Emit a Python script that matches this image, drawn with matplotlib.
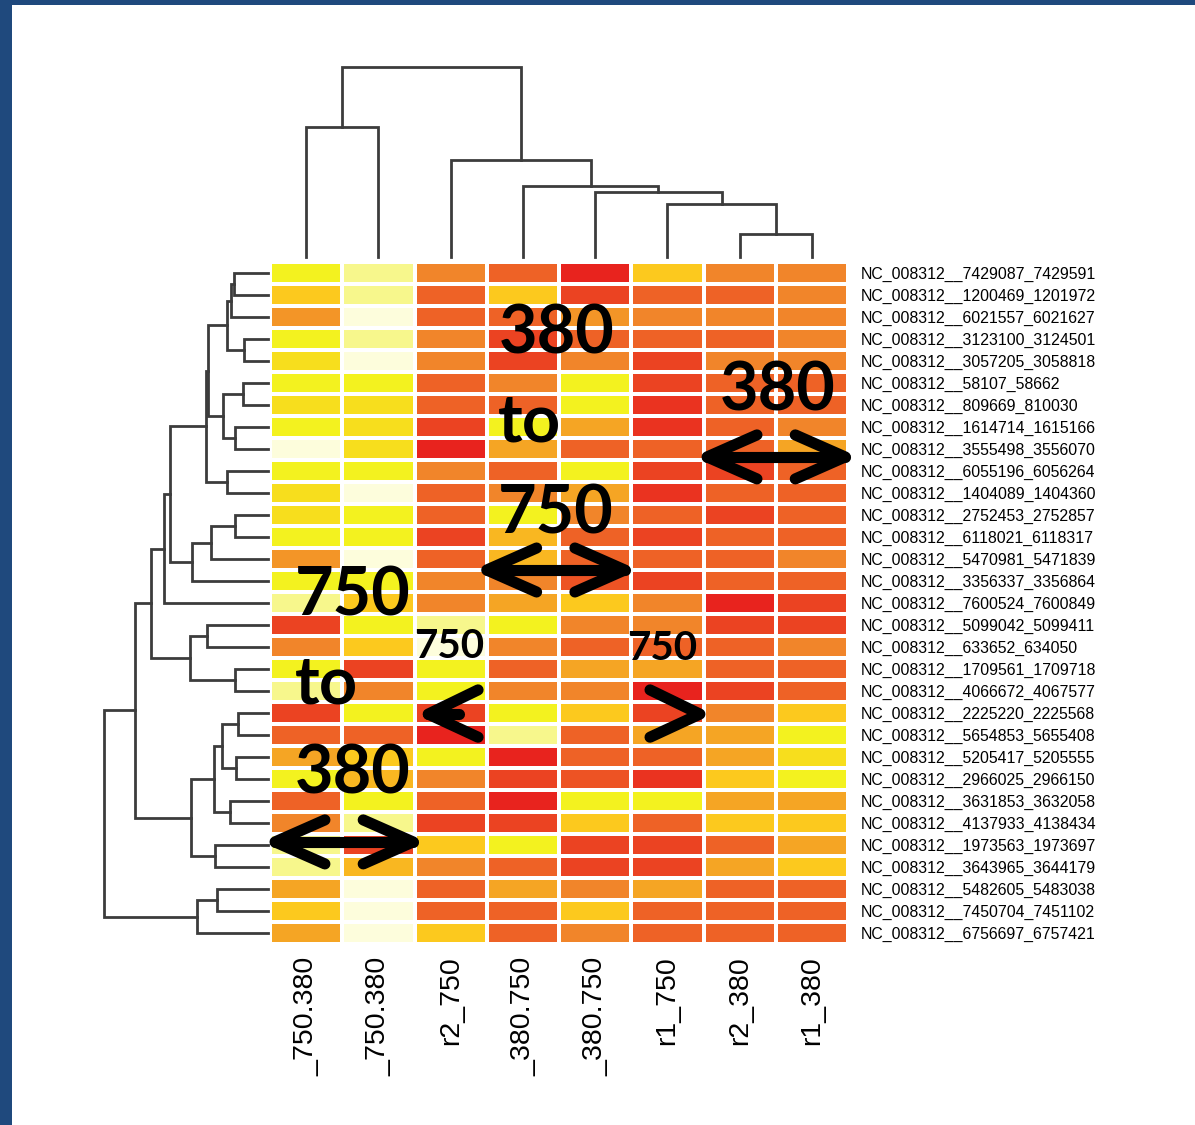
import numpy as np
import matplotlib
matplotlib.use("Agg")
import matplotlib.pyplot as plt
from matplotlib.colors import LinearSegmentedColormap
from matplotlib.patches import Rectangle

# ---- data -------------------------------------------------------------
col_labels = ["_750.380", "_750.380", "r2_750", "_380.750", "_380.750",
              "r1_750", "r2_380", "r1_380"]

row_labels = [
    "NC_008312__7429087_7429591", "NC_008312__1200469_1201972",
    "NC_008312__6021557_6021627", "NC_008312__3123100_3124501",
    "NC_008312__3057205_3058818", "NC_008312__58107_58662",
    "NC_008312__809669_810030", "NC_008312__1614714_1615166",
    "NC_008312__3555498_3556070", "NC_008312__6055196_6056264",
    "NC_008312__1404089_1404360", "NC_008312__2752453_2752857",
    "NC_008312__6118021_6118317", "NC_008312__5470981_5471839",
    "NC_008312__3356337_3356864", "NC_008312__7600524_7600849",
    "NC_008312__5099042_5099411", "NC_008312__633652_634050",
    "NC_008312__1709561_1709718", "NC_008312__4066672_4067577",
    "NC_008312__2225220_2225568", "NC_008312__5654853_5655408",
    "NC_008312__5205417_5205555", "NC_008312__2966025_2966150",
    "NC_008312__3631853_3632058", "NC_008312__4137933_4138434",
    "NC_008312__1973563_1973697", "NC_008312__3643965_3644179",
    "NC_008312__5482605_5483038", "NC_008312__7450704_7451102",
    "NC_008312__6756697_6757421",
]

# colour level (0 = red ... 8 = near white)
levels = np.array([
    [6, 7, 3, 2, 0, 5, 3, 3],
    [5, 7, 2, 5, 1, 2, 2, 3],
    [3.5, 8, 2, 2, 3.5, 3, 3, 3],
    [6, 7, 3, 1, 2, 2, 2, 3],
    [5.5, 8, 3, 1, 3, 1, 3, 3],
    [6, 6, 2, 3, 6, 1, 2, 2],
    [5.5, 5.5, 2, 2, 6, 0.5, 2, 2],
    [6, 5.5, 1, 6, 4, 0.5, 2, 3],
    [8, 5.5, 0, 4, 2, 2, 2, 4],
    [6, 6, 3, 2, 6, 1, 1, 2],
    [5.5, 8, 2, 3, 4, 0.5, 2, 2],
    [5.5, 6, 2, 6, 3, 2, 1, 2],
    [6, 6, 1, 4.5, 2, 1, 2, 2],
    [3.5, 8, 2, 4.5, 2, 2, 2, 3],
    [6, 6, 3, 3, 1.5, 1, 2, 2],
    [7, 5, 3, 4, 5, 3, 0, 1],
    [1, 6, 7, 6, 3, 3, 1, 1],
    [3, 5, 8, 3, 2, 2, 2, 3],
    [6, 1, 6, 2, 4, 4, 2, 2],
    [7, 3, 6, 3, 3, 0, 1, 2],
    [1, 6, 1, 6, 5, 1, 3, 5],
    [2, 2, 0, 7, 2, 4, 4, 6],
    [4, 5, 6, 0, 2, 2, 4, 5.5],
    [6, 4.5, 3, 1, 1.5, 0.5, 5, 6],
    [2, 6, 2, 0, 6, 6, 4, 4],
    [3, 7, 1, 1, 5, 2, 5, 5],
    [7, 1, 5, 6, 1, 1, 2, 4],
    [7, 4.5, 3, 2, 1, 1, 4, 5],
    [4, 8, 2, 4, 3, 4, 2, 2],
    [5, 8, 2, 2, 5, 2, 2, 2],
    [4, 8, 5, 2, 3, 2, 2, 2],
])

# linkage: (node a, node b, height); new nodes numbered from n upward
col_merges = [(0, 1, 130), (6, 7, 23), (5, 9, 53), (4, 10, 65),
              (3, 11, 71), (2, 12, 97), (8, 13, 190)]

row_merges = [
    (0, 1, 34), (31, 2, 37), (3, 4, 24), (32, 33, 41),
    (5, 6, 25), (7, 8, 33), (35, 36, 45), (34, 37, 60),
    (9, 10, 41), (38, 39, 62), (11, 12, 33), (41, 13, 57),
    (42, 14, 76), (40, 43, 98), (44, 15, 104), (16, 17, 61),
    (18, 19, 33), (46, 47, 78), (45, 48, 117), (20, 21, 30),
    (22, 23, 32), (50, 51, 46), (24, 25, 38), (52, 53, 54),
    (26, 27, 53), (54, 55, 77), (49, 56, 133), (28, 29, 51),
    (58, 30, 71), (57, 59, 164),
]

heat_colors = ["#E8231E", "#EB4322", "#EE6226", "#F1852A", "#F5A424",
               "#FCC81E", "#F3F21C", "#F7F78A", "#FDFDDC"]


def dendro_segments(merges, n):
    pos = {i: i + 0.5 for i in range(n)}
    ht = {i: 0.0 for i in range(n)}
    segs = []
    for k, (a, b, h) in enumerate(merges):
        segs.append(([pos[a], pos[a], pos[b], pos[b]], [ht[a], h, h, ht[b]]))
        pos[n + k] = 0.5 * (pos[a] + pos[b])
        ht[n + k] = h
    return segs


W, H = 1195, 1125
fig = plt.figure(figsize=(W / 100, H / 100), dpi=100)
fig.patch.set_facecolor("white")

def px_box(x0, y0, x1, y1):
    return [x0 / W, 1 - y1 / H, (x1 - x0) / W, (y1 - y0) / H]

# ---- heatmap ----------------------------------------------------------
nr, nc = levels.shape
ax = fig.add_axes(px_box(270, 262, 848, 944))
cmap = LinearSegmentedColormap.from_list("heat", heat_colors)
ax.pcolormesh(np.arange(nc + 1), np.arange(nr + 1), levels, cmap=cmap,
              vmin=0, vmax=8, edgecolors="white", linewidth=1.6)
ax.set_xlim(0, nc)
ax.set_ylim(nr, 0)
for s in ax.spines.values():
    s.set_visible(False)
ax.yaxis.tick_right()
ax.set_yticks(np.arange(nr) + 0.5)
ax.set_yticklabels(row_labels, fontsize=11.4, family="Liberation Sans")
ax.set_xticks(np.arange(nc) + 0.5)
ax.set_xticklabels(col_labels, rotation=90, fontsize=20.5,
                   family="Liberation Sans")
ax.tick_params(axis="y", length=0, pad=9)
ax.tick_params(axis="x", length=0, pad=9)

# ---- dendrograms ------------------------------------------------------
dcol = "#3c3c3c"
axt = fig.add_axes(px_box(270, 67, 848, 257))
for xs, ys in dendro_segments(col_merges, nc):
    axt.plot(xs, ys, color=dcol, lw=2.0, clip_on=False,
             solid_joinstyle="miter")
axt.set_xlim(0, nc)
axt.set_ylim(0, 190)
axt.axis("off")

axl = fig.add_axes(px_box(104, 262, 268, 944))
for ys, xs in dendro_segments(row_merges, nr):
    axl.plot(xs, ys, color=dcol, lw=2.0, clip_on=False,
             solid_joinstyle="miter")
axl.set_xlim(164, 0)
axl.set_ylim(nr, 0)
axl.axis("off")

# ---- annotations (heatmap coordinates: columns, rows) -----------------
big = dict(fontsize=48, fontweight="bold", family="Lato", color="black",
           ha="left", va="baseline", zorder=10, clip_on=False)
small = dict(big, fontsize=29)

ax.text(3.16, 4.14, "380", **big)
ax.text(3.16, 8.18, "to", **big)
ax.text(3.16, 12.32, "750", **big)
ax.text(6.23, 6.73, "380", **big)
ax.text(0.35, 16.05, "750", **big)
ax.text(0.35, 20.05, "to", **big)
ax.text(0.35, 24.14, "380", **big)
ax.text(2.0, 18.0, "750", **small)
ax.text(4.94, 18.09, "750", **small)

arrow_kw = dict(color="black", lw=8, solid_capstyle="round",
                solid_joinstyle="round", clip_on=False, zorder=11)
hx, hy = 0.69, 1.0


def double_arrow(x0, x1, y):
    ax.plot([x0, x1], [y, y], **arrow_kw)
    ax.plot([x0 + hx, x0, x0 + hx], [y - hy, y, y + hy], **arrow_kw)
    ax.plot([x1 - hx, x1, x1 - hx], [y - hy, y, y + hy], **arrow_kw)


double_arrow(3.0, 4.91, 14.0)
double_arrow(6.05, 7.96, 8.86)
double_arrow(0.07, 1.98, 26.36)

# single chevrons
ax.plot([2.88, 2.19, 2.88], [19.45, 20.55, 21.6], **arrow_kw)
ax.plot([2.19, 2.62], [20.55, 20.55], **arrow_kw)
ax.plot([5.26, 5.95, 5.26], [19.45, 20.55, 21.6], **arrow_kw)

# ---- slide border -----------------------------------------------------
fig.patches.append(Rectangle((0, 0), 12 / W, 1, transform=fig.transFigure,
                             facecolor="#1F497D", edgecolor="none"))
fig.patches.append(Rectangle((0, 1 - 5 / H), 1, 5 / H,
                             transform=fig.transFigure,
                             facecolor="#1F497D", edgecolor="none"))

fig.savefig("out.png", dpi=100)
